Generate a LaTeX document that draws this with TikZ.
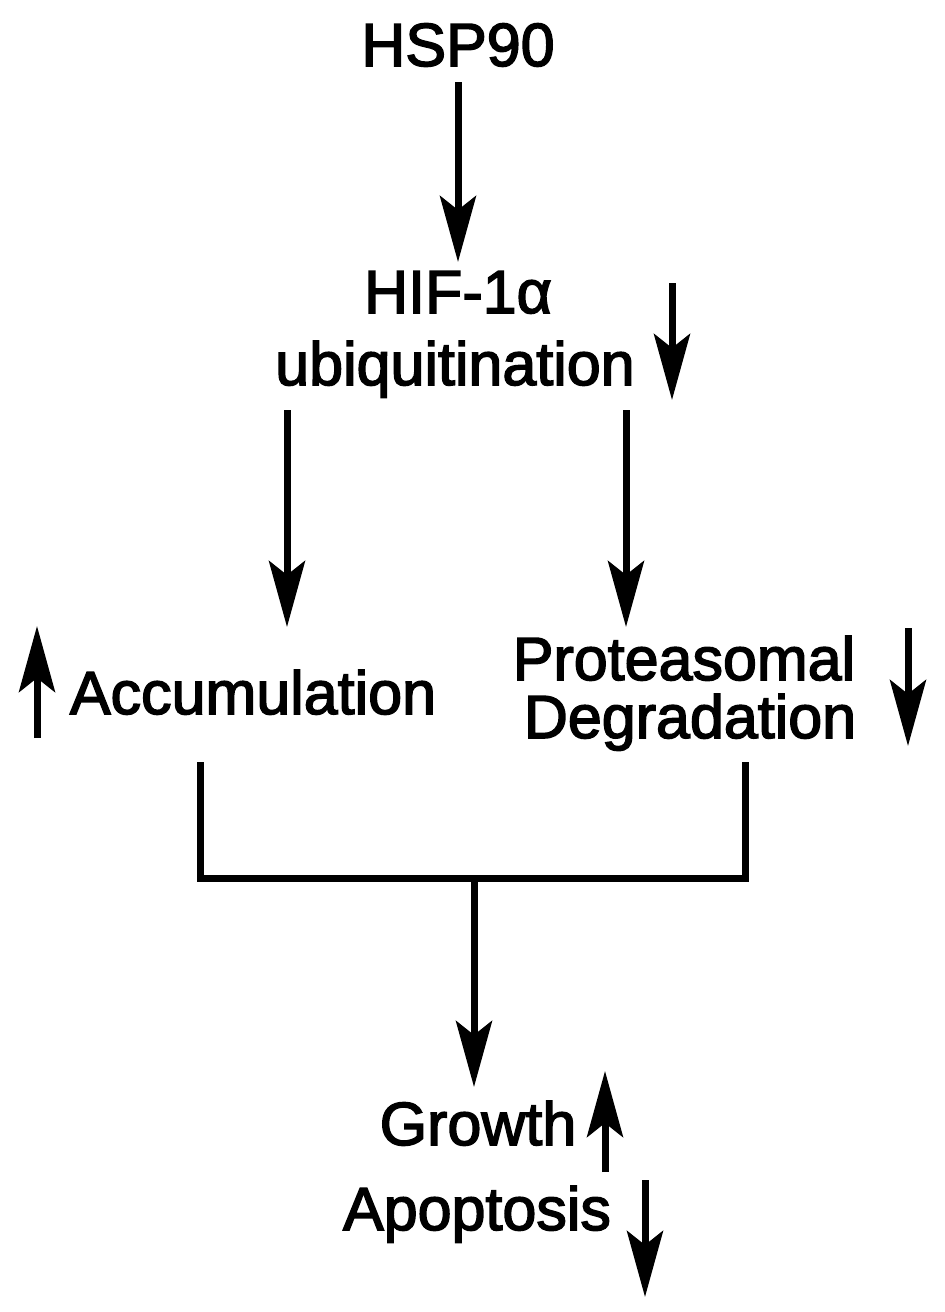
\documentclass[tikz,border=0pt]{standalone}
\usepackage{fontspec}
\setmainfont{Liberation Sans}[FakeBold=2.5]
\usetikzlibrary{arrows.meta}
\tikzset{
  lbl/.style={anchor=base, inner sep=0pt, font=\fontsize{61}{61}\selectfont},
  arr/.style={line width=7pt, -{Stealth[length=66pt, width=36pt, inset=14pt]}},
  plain/.style={line width=7pt, line join=miter, line cap=butt}
}
\begin{document}
\begin{tikzpicture}[x=1pt, y=-1pt]
\useasboundingbox[fill=white] (0,0) rectangle (945,1312);
% labels
\node[lbl] (hsp) at (458,66) {HSP90};
\node[lbl] (hif) at (458,313) {HIF-1α};
\node[lbl] (ubi) at (455,385) {ubiquitination};
\node[lbl] (acc) at (253,714) {Accumulation};
\node[lbl] (prot) at (684,680) {Proteasomal};
\node[lbl] (deg) at (690,738) {Degradation};
\node[lbl] (gro) at (478,1145) {Growth};
\node[lbl] (apo) at (477,1230) {Apoptosis};
% coordinates
\coordinate (c1a) at (458,82);  \coordinate (c1b) at (458,262);
\coordinate (c2a) at (287,410); \coordinate (c2b) at (287,627);
\coordinate (c3a) at (626,410); \coordinate (c3b) at (626,627);
\coordinate (bl) at (200,762); \coordinate (blc) at (200,878);
\coordinate (br) at (745,762); \coordinate (brc) at (745,878);
\coordinate (bm) at (474,878); \coordinate (c4b) at (474,1087);
% indicator arrows
\coordinate (iu1) at (672,283); \coordinate (iu2) at (672,400);
\coordinate (ia1) at (37,738);  \coordinate (ia2) at (37,626);
\coordinate (ip1) at (908,628); \coordinate (ip2) at (908,746);
\coordinate (ig1) at (605,1172); \coordinate (ig2) at (605,1071);
\coordinate (ix1) at (645,1180); \coordinate (ix2) at (645,1297);
% connectors
\draw[arr] (c1a) -- (c1b);
\draw[arr] (c2a) -- (c2b);
\draw[arr] (c3a) -- (c3b);
\draw[plain] (bl) -- (blc) -- (brc) -- (br);
\draw[arr] (bm) -- (c4b);
\draw[arr] (iu1) -- (iu2);
\draw[arr] (ia1) -- (ia2);
\draw[arr] (ip1) -- (ip2);
\draw[arr] (ig1) -- (ig2);
\draw[arr] (ix1) -- (ix2);
\end{tikzpicture}
\end{document}
